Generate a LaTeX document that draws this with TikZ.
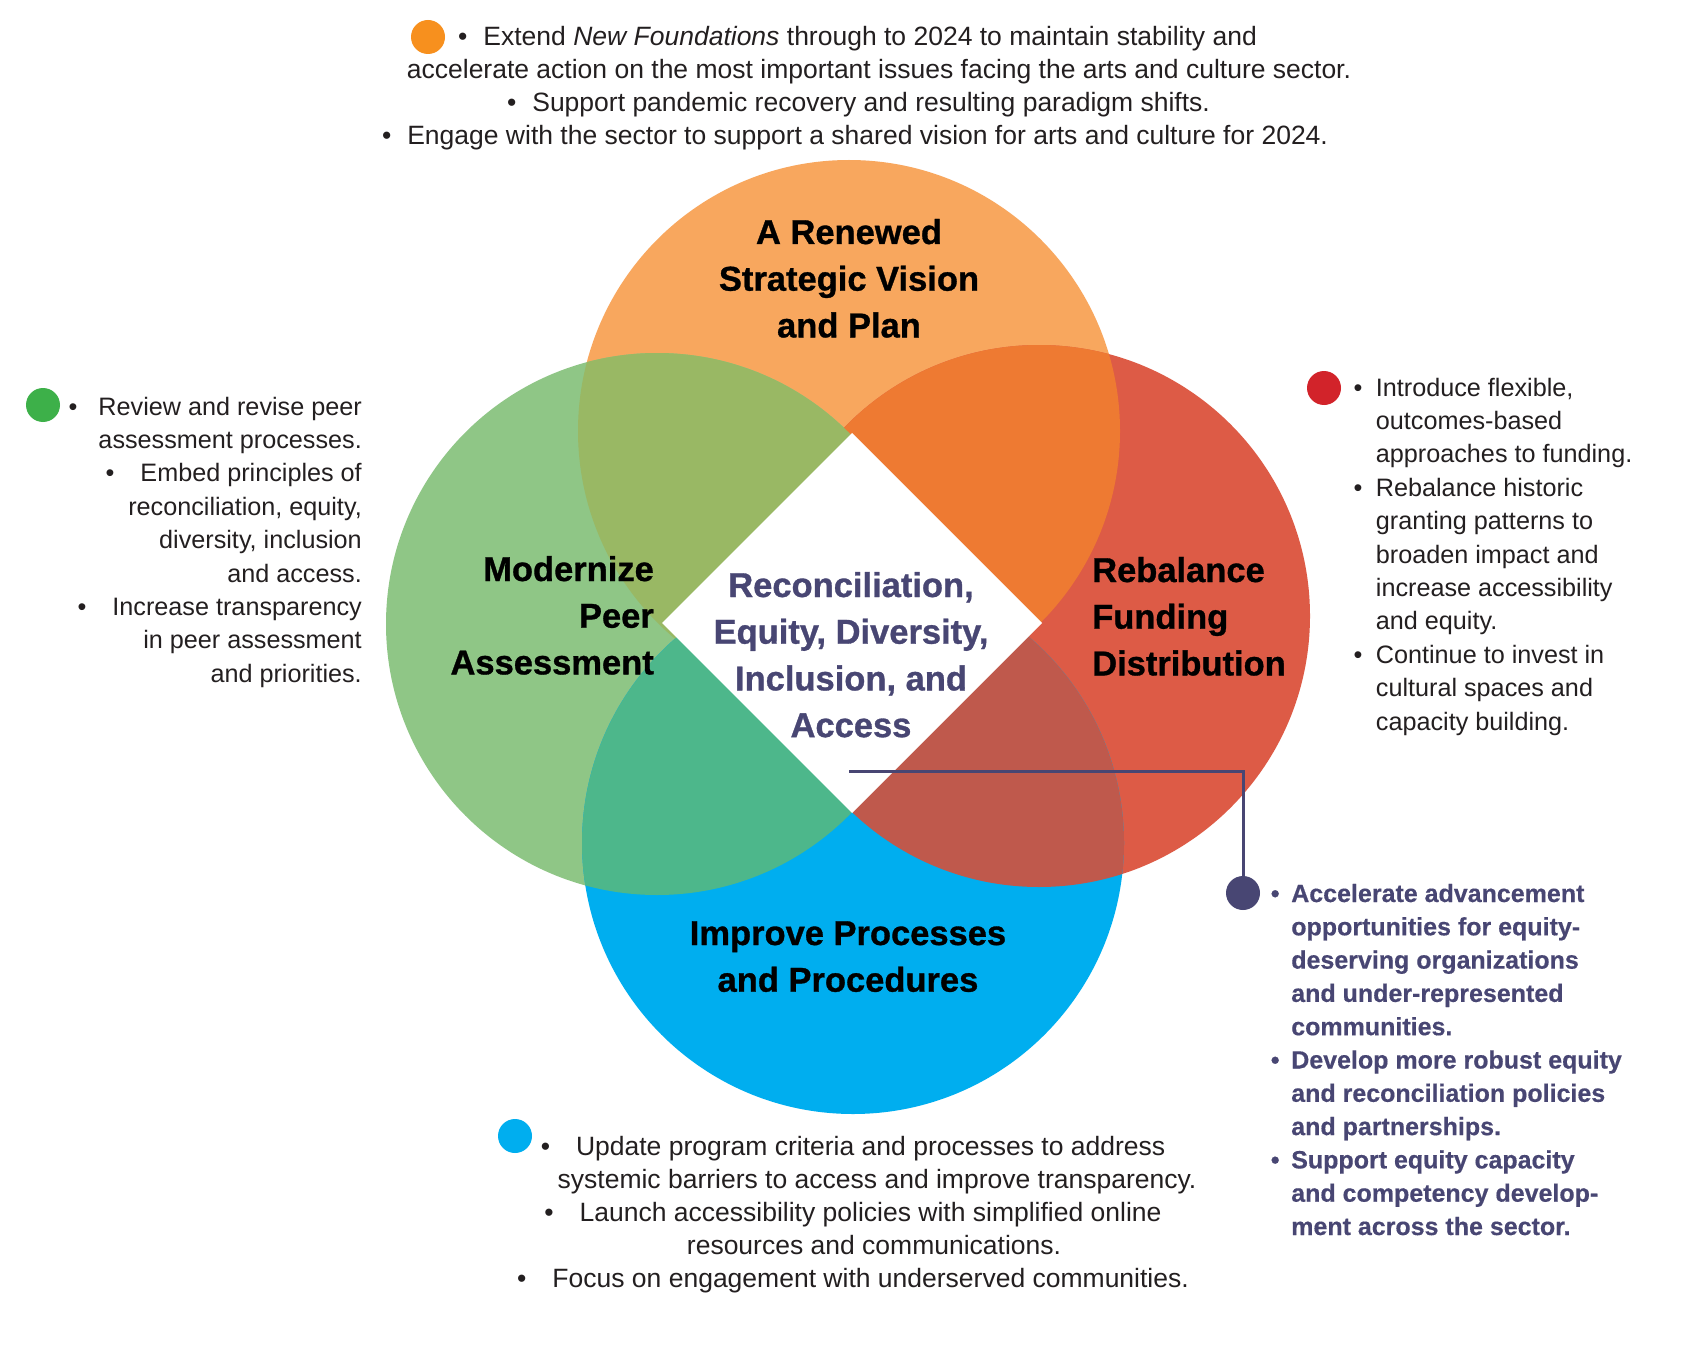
\documentclass[tikz,border=0pt]{standalone}
\usepackage{fontspec}
\setmainfont{Liberation Sans}
\newfontfamily\heavyfont{Liberation Sans}[BoldFeatures={FakeBold=0.9}]
\newfontfamily\semiheavyfont{Liberation Sans}[BoldFeatures={FakeBold=0.4}]
\definecolor{cOrange}{HTML}{F8A75E}
\definecolor{cGreen}{HTML}{8FC686}
\definecolor{cRed}{HTML}{DD5B46}
\definecolor{cBlue}{HTML}{00AEEF}
\definecolor{cOG}{HTML}{99B864}
\definecolor{cOR}{HTML}{EE7A32}
\definecolor{cGB}{HTML}{4DB78B}
\definecolor{cRB}{HTML}{BF594C}
\definecolor{cPurple}{HTML}{484673}
\definecolor{dOrange}{HTML}{F7901E}
\definecolor{dGreen}{HTML}{3DB049}
\definecolor{dRed}{HTML}{D2232A}
\definecolor{bodytext}{HTML}{231F20}
\newcommand{\mybul}{\textbullet}
\tikzset{
  dot/.style={circle, inner sep=0pt, minimum size=34pt},
  toptext/.style={inner sep=0pt, text=bodytext, font=\fontsize{26.5}{33.4}\selectfont},
  sidetext/.style={inner sep=0pt, text=bodytext, font=\fontsize{25.2}{33.4}\selectfont},
  purpletext/.style={inner sep=0pt, text=cPurple, font=\fontsize{25}{33.3}\selectfont\semiheavyfont\bfseries},
  label/.style={inner sep=0pt, text=black, font=\fontsize{34.5}{46.7}\selectfont\heavyfont\bfseries},
  conn/.style={draw=cPurple, line width=3pt},
}
\begin{document}
\begin{tikzpicture}[x=1pt,y=-1pt]
\fill[white] (0,0) rectangle (1700,1356);
\useasboundingbox (0,0) rectangle (1700,1356);
% circle centres
\coordinate (cO) at (849,431);
\coordinate (cG) at (657,624);
\coordinate (cR) at (1039,616);
\coordinate (cB) at (853,843);
% base circles
\fill[cOrange] (cO) circle[radius=271pt];
\fill[cGreen] (cG) circle[radius=271pt];
\fill[cRed] (cR) circle[radius=271pt];
\fill[cBlue] (cB) circle[radius=271pt];
% overlaps
\begin{scope}
  \clip (cO) circle[radius=271pt];
  \fill[cOR] (cR) circle[radius=271pt];
  \fill[cOG] (cG) circle[radius=271pt];
\end{scope}
\begin{scope}
  \clip (cB) circle[radius=271pt];
  \fill[cGB] (cG) circle[radius=271pt];
  \fill[cRB] (cR) circle[radius=271pt];
\end{scope}
% central diamond
\fill[white] (852,433) -- (1042,623) -- (852,813) -- (662,623) -- cycle;

% circle labels
\node[label, anchor=base] (lO) at (849,244) {\begin{tabular}[t]{@{}c@{}}A Renewed\\Strategic Vision\\and Plan\end{tabular}};
\node[label, anchor=base east] (lG) at (654,581) {\begin{tabular}[t]{@{}r@{}}Modernize\\Peer\\Assessment\end{tabular}};
\node[label, anchor=base west] (lR) at (1092,582) {\begin{tabular}[t]{@{}l@{}}Rebalance\\Funding\\Distribution\end{tabular}};
\node[label, anchor=base] (lB) at (848,945) {\begin{tabular}[t]{@{}c@{}}Improve Processes\\and Procedures\end{tabular}};
\node[label, text=cPurple, anchor=base] (lC) at (851,597) {\begin{tabular}[t]{@{}c@{}}Reconciliation,\\Equity, Diversity,\\Inclusion, and\\Access\end{tabular}};

% top block
\node[dot, fill=dOrange] (odot) at (428,37) {};
\node[toptext, anchor=base] (t1) at (857.5,46) {\mybul\hspace{16pt}Extend \textit{New Foundations} through to 2024 to maintain stability and};
\node[toptext, anchor=base] (t2) at (879,78.5) {accelerate action on the most important issues facing the arts and culture sector.};
\node[toptext, anchor=base] (t3) at (858.5,111.5) {\mybul\hspace{16pt}Support pandemic recovery and resulting paradigm shifts.};
\node[toptext, anchor=base] (t4) at (855,144.5) {\mybul\hspace{16pt}Engage with the sector to support a shared vision for arts and culture for 2024.};

% left block
\node[dot, fill=dGreen] (gdot) at (43,405) {};
\node[sidetext, anchor=base east] (gtext) at (362,415) {\begin{tabular}[t]{@{}r@{}}
\mybul\hspace{21pt}Review and revise peer\\
assessment processes.\\
\mybul\hspace{26pt}Embed principles of\\
reconciliation, equity,\\
diversity, inclusion\\
and access.\\
\mybul\hspace{26pt}Increase transparency\\
in peer assessment\\
and priorities.
\end{tabular}};

% right block
\node[dot, fill=dRed] (rdot) at (1324,388) {};
\node[sidetext, anchor=base west] (rtext) at (1353.5,396) {\begin{tabular}[t]{@{}l@{\hspace{13.4pt}}l@{}}
\mybul & Introduce flexible,\\
 & outcomes-based\\
 & approaches to funding.\\
\mybul & Rebalance historic\\
 & granting patterns to\\
 & broaden impact and\\
 & increase accessibility\\
 & and equity.\\
\mybul & Continue to invest in\\
 & cultural spaces and\\
 & capacity building.
\end{tabular}};

% purple block
\node[dot, fill=cPurple] (pdot) at (1243,893) {};
\node[purpletext, anchor=base west] (ptext) at (1270.6,902) {\begin{tabular}[t]{@{}l@{\hspace{11.7pt}}l@{}}
\mybul & Accelerate advancement\\
 & opportunities for equity-\\
 & deserving organizations\\
 & and under-represented\\
 & communities.\\
\mybul & Develop more robust equity\\
 & and reconciliation policies\\
 & and partnerships.\\
\mybul & Support equity capacity\\
 & and competency develop-\\
 & ment across the sector.
\end{tabular}};
\coordinate (cstart) at (849,771);
\draw[conn] (cstart) -| (pdot.north);

% bottom block
\node[dot, fill=cBlue] (bdot) at (515,1136) {};
\node[toptext, anchor=base] (b1) at (853,1155) {\mybul\hspace{26pt}Update program criteria and processes to address};
\node[toptext, anchor=base] (b2) at (877,1188) {systemic barriers to access and improve transparency.};
\node[toptext, anchor=base] (b3) at (853,1221) {\mybul\hspace{26pt}Launch accessibility policies with simplified online};
\node[toptext, anchor=base] (b4) at (874,1254) {resources and communications.};
\node[toptext, anchor=base] (b5) at (853,1287) {\mybul\hspace{26pt}Focus on engagement with underserved communities.};
\end{tikzpicture}
\end{document}
